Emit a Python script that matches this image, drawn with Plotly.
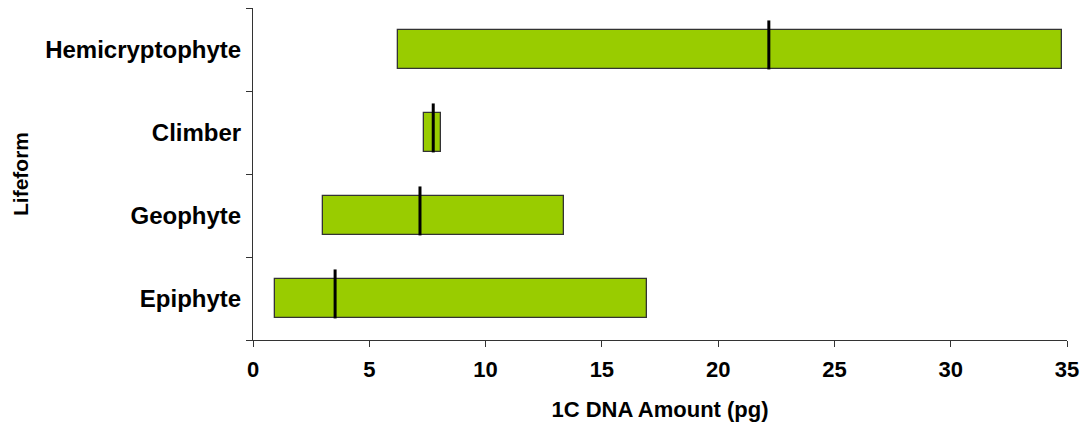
import plotly.graph_objects as go

# Life forms (bottom to top) and their 1C DNA ranges / medians in pg
lifeforms = ["Epiphyte", "Geophyte", "Climber", "Hemicryptophyte"]
dna_min = [0.96, 3.02, 7.36, 6.22]
dna_max = [16.93, 13.38, 8.07, 34.77]
dna_median = [3.53, 7.18, 7.75, 22.18]

x_ticks = [0, 5, 10, 15, 20, 25, 30, 35]

FONT = "Liberation Sans, Arial, sans-serif"
BAR_W = 0.48

fig = go.Figure()

# floating range bars: from min to max
fig.add_trace(go.Bar(
    y=lifeforms,
    x=[hi - lo for lo, hi in zip(dna_min, dna_max)],
    base=dna_min,
    orientation="h",
    width=BAR_W,
    marker=dict(color="#99CC00", line=dict(color="#333333", width=1.3)),
    hoverinfo="skip",
    showlegend=False,
))

# median markers: vertical strokes that rise a little above each bar
for i, m in enumerate(dna_median):
    fig.add_shape(
        type="line", xref="x", yref="y",
        x0=m, x1=m, y0=i - BAR_W / 2, y1=i + 0.35,
        line=dict(color="#000000", width=3),
    )

fig.update_layout(
    width=1089, height=427,
    margin=dict(l=253, r=22, t=8, b=87),
    paper_bgcolor="white", plot_bgcolor="white",
    font=dict(family=FONT, color="#000000"),
    bargap=0,
)

fig.update_xaxes(
    range=[0, 35], tickvals=x_ticks,
    showgrid=False, zeroline=False,
    showline=True, linecolor="#333333", linewidth=1,
    ticks="outside", ticklen=6, tickcolor="#333333",
    ticklabelstandoff=4,
    tickfont=dict(family=FONT, size=22, color="#000000", weight="bold"),
    title=dict(text="<b>1C DNA Amount (pg)</b>", font=dict(family=FONT, size=22), standoff=20),
)

fig.update_yaxes(
    type="category", categoryorder="array", categoryarray=lifeforms,
    range=[-0.5, 3.5],
    showgrid=False, zeroline=False,
    showline=True, linecolor="#333333", linewidth=1,
    ticks="outside", ticklen=6, tickcolor="#333333", tickson="boundaries",
    ticklabelstandoff=6,
    tickfont=dict(family=FONT, size=24, color="#000000", weight="bold"),
    title=dict(text="<b>Lifeform</b>", font=dict(family=FONT, size=21), standoff=10),
)

fig.write_html("out.html")
